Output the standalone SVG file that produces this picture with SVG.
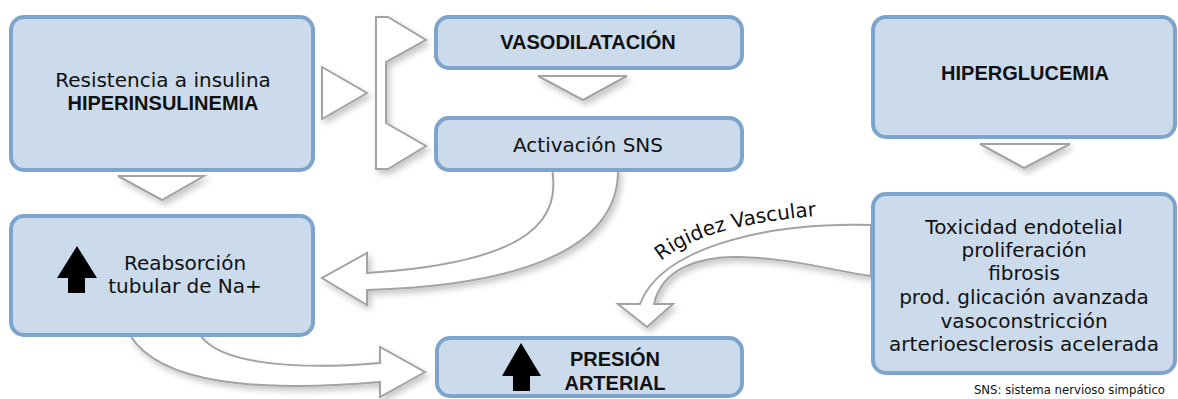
<svg xmlns="http://www.w3.org/2000/svg" width="1178" height="399" viewBox="0 0 1178 399">
<defs>
<filter id="sh" x="-20%" y="-20%" width="150%" height="150%">
<feDropShadow dx="3" dy="4" stdDeviation="3" flood-color="#000" flood-opacity="0.22"/>
</filter>
<style>
.box{fill:#cbdbeb;stroke:#7da4cc;stroke-width:4}
.con{fill:#fff;stroke:#a3a3a3;stroke-width:2;stroke-linejoin:miter;filter:url(#sh)}
.t{font-family:"DejaVu Sans",sans-serif;font-size:20px;fill:#111;text-anchor:middle}
.b{font-family:"Liberation Sans",Arial,sans-serif;font-weight:bold;font-size:20px;fill:#111;text-anchor:middle}
.up{fill:#000}
</style>
</defs>
<g id="connectors">
<polygon class="con" points="322,67 367,93 322,119"/>
<polygon class="con" points="376,17 388,17 426,40 386,62 386,123 426,146 388,169 376,169"/>
<polygon class="con" points="538,76 627,76 583,100"/>
<polygon class="con" points="118,176 204,176 162,200"/>
<polygon class="con" points="980,144 1070,144 1024,168"/>
<path class="con" d="M552,168 C560,215 540,262 367,273 L367,253 L322,278 L367,305 L367,290 C540,285 620,240 618,168 Z"/>
<path class="con" d="M200,335 C220,365 300,370 380,363 L380,347 L425,372 L380,397 L380,382 C260,392 160,385 130,335 Z"/>
<path class="con" d="M871,225 C760,222 660,250 640,304 L618,304 L647,327 L673,304 L654,304 C662,268 700,256 740,257 C790,258 830,270 871,276 Z"/>
<path id="rv" d="M661,261 C692,236 740,221 840,214" fill="none"/>
<text style="font-family:'DejaVu Sans',sans-serif;font-size:20px;fill:#111"><textPath href="#rv">Rigidez Vascular</textPath></text>
</g>
<g id="n-resistencia">
<rect class="box" x="11" y="17" width="302" height="153" rx="13"/>
<text class="t" x="163" y="87">Resistencia a insulina</text>
<text class="b" x="163" y="110">HIPERINSULINEMIA</text>
</g>
<g id="n-vaso">
<rect class="box" x="436" y="17" width="306" height="51" rx="13"/>
<text class="b" x="588" y="49">VASODILATACIÓN</text>
</g>
<g id="n-sns">
<rect class="box" x="436" y="118" width="306" height="52" rx="13"/>
<text class="t" x="588" y="152">Activación SNS</text>
</g>
<g id="n-hiper">
<rect class="box" x="873" y="17" width="302" height="120" rx="13"/>
<text class="b" x="1025" y="80">HIPERGLUCEMIA</text>
</g>
<g id="n-reabs">
<rect class="box" x="11" y="216" width="302" height="119" rx="13"/>
<polygon class="up" points="77,246 97,278 85,278 85,293 68,293 68,278 57,278"/>
<text class="t" x="185" y="270">Reabsorción</text>
<text class="t" x="185" y="293">tubular de Na+</text>
</g>
<g id="n-presion">
<rect class="box" x="437" y="338" width="305" height="58" rx="13"/>
<polygon class="up" points="521,343 541,376 530,376 530,391 513,391 513,376 502,376"/>
<text class="b" x="615" y="366">PRESIÓN</text>
<text class="b" x="615" y="390">ARTERIAL</text>
</g>
<g id="n-toxicidad">
<rect class="box" x="873" y="194" width="302" height="179" rx="13"/>
<text class="t" x="1024" y="234">Toxicidad endotelial</text>
<text class="t" x="1024" y="257">proliferación</text>
<text class="t" x="1024" y="280">fibrosis</text>
<text class="t" x="1024" y="304">prod. glicación avanzada</text>
<text class="t" x="1024" y="328">vasoconstricción</text>
<text class="t" x="1024" y="351">arterioesclerosis acelerada</text>
</g>
<text x="1165" y="394" style="font-family:'DejaVu Sans',sans-serif;font-size:11.7px;fill:#111;text-anchor:end">SNS: sistema nervioso simpático</text>
</svg>
